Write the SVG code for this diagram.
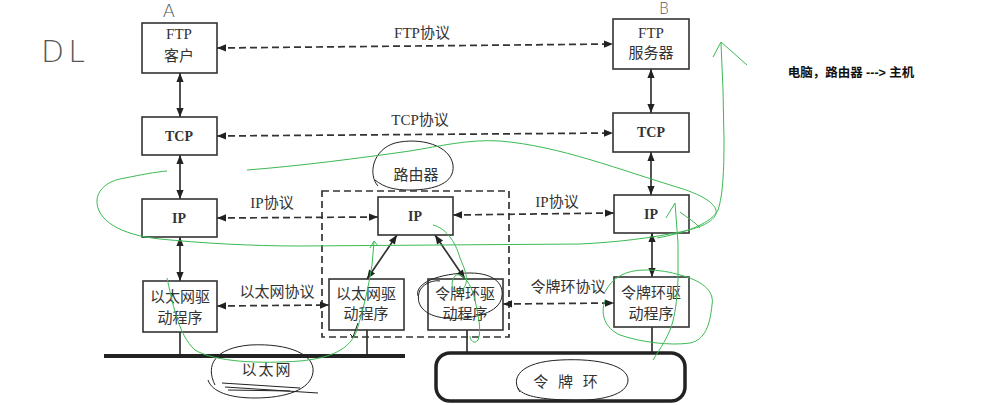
<svg xmlns="http://www.w3.org/2000/svg" width="1002" height="405" viewBox="0 0 1002 405">
<style>
.box{fill:#fff;stroke:#333;stroke-width:1.6}
.lbl{font-family:"Liberation Serif","Noto Sans CJK SC",serif;font-size:15px;fill:#333;text-anchor:middle}
.b{font-weight:bold;font-size:14px}
.con{stroke:#333;stroke-width:1.7;fill:none}
.dash{stroke-dasharray:7 4}
.hand{fill:none;stroke:#222;stroke-width:1}
.green{fill:none;stroke:#3cba54;stroke-width:1}
.hw{font-family:"DejaVu Sans",sans-serif;fill:#555;text-anchor:middle;font-weight:200}
</style>
<defs>
<marker id="ah" viewBox="0 0 10 10" refX="10" refY="5" markerWidth="10" markerHeight="9" markerUnits="userSpaceOnUse" orient="auto-start-reverse">
<path d="M0,1 L10,5 L0,9 z" fill="#222" stroke="none"/>
</marker>
</defs>
<rect width="1002" height="405" fill="#fff"/>

<g id="router-frame">
<rect x="322" y="191" width="187" height="146" fill="none" stroke="#333" stroke-width="1.7" stroke-dasharray="7 4"/>
</g>

<g id="connectors">
<path class="con dash" d="M217,48 L613,44" marker-start="url(#ah)" marker-end="url(#ah)"/>
<path class="con dash" d="M217,136 L613,133" marker-start="url(#ah)" marker-end="url(#ah)"/>
<path class="con dash" d="M217,218 L378,217" marker-start="url(#ah)" marker-end="url(#ah)"/>
<path class="con dash" d="M453,215 L614,213" marker-start="url(#ah)" marker-end="url(#ah)"/>
<path class="con dash" d="M217,306 L329,305" marker-start="url(#ah)" marker-end="url(#ah)"/>
<path class="con dash" d="M503,304 L614,303" marker-start="url(#ah)" marker-end="url(#ah)"/>
<path class="con" d="M180,73 L180,117" marker-start="url(#ah)" marker-end="url(#ah)"/>
<path class="con" d="M180,155 L180,199" marker-start="url(#ah)" marker-end="url(#ah)"/>
<path class="con" d="M180,237 L180,281" marker-start="url(#ah)" marker-end="url(#ah)"/>
<path class="con" d="M651,69 L651,113" marker-start="url(#ah)" marker-end="url(#ah)"/>
<path class="con" d="M651,152 L651,195" marker-start="url(#ah)" marker-end="url(#ah)"/>
<path class="con" d="M652,233 L652,277" marker-start="url(#ah)" marker-end="url(#ah)"/>
<path class="con" d="M397,235 L367,279" marker-start="url(#ah)" marker-end="url(#ah)"/>
<path class="con" d="M435,235 L465,279" marker-start="url(#ah)" marker-end="url(#ah)"/>
<path class="con" d="M180,332 L180,357 M367,330 L367,357 M467,330 L467,354 M652,327 L652,353"/>
<text class="lbl" x="422" y="38">FTP协议</text>
<text class="lbl" x="420" y="125">TCP协议</text>
<text class="lbl" x="272" y="208">IP协议</text>
<text class="lbl" x="557" y="207">IP协议</text>
<text class="lbl" x="277" y="297">以太网协议</text>
<text class="lbl" x="568" y="292">令牌环协议</text>
</g>

<g id="ethernet">
<path d="M104,356 L405,356" stroke="#222" stroke-width="4"/>
<text class="lbl" x="267" y="375" letter-spacing="2">以太网</text>
</g>
<g id="token-ring">
<rect x="436" y="353" width="249" height="48" rx="14" fill="none" stroke="#222" stroke-width="3.5"/>
<text class="lbl" x="567" y="387" font-size="16" letter-spacing="3">令 牌 环</text>
</g>

<g id="ftp-client"><rect class="box" x="142" y="23" width="75" height="50"/><text class="lbl" x="179" y="39">FTP</text><text class="lbl" x="179" y="61">客户</text></g>
<g id="tcp-a"><rect class="box" x="142" y="117" width="75" height="38"/><text class="lbl b" x="179" y="141">TCP</text></g>
<g id="ip-a"><rect class="box" x="142" y="199" width="75" height="38"/><text class="lbl b" x="179" y="223">IP</text></g>
<g id="eth-driver-a"><rect class="box" x="143" y="281" width="74" height="51"/><text class="lbl" x="180" y="302">以太网驱</text><text class="lbl" x="180" y="323">动程序</text></g>

<g id="router-label"><text class="lbl" x="416" y="180">路由器</text></g>
<g id="ip-router"><rect class="box" x="378" y="197" width="75" height="38"/><text class="lbl b" x="415" y="221">IP</text></g>
<g id="eth-driver-router"><rect class="box" x="329" y="279" width="75" height="51"/><text class="lbl" x="366" y="299">以太网驱</text><text class="lbl" x="366" y="319">动程序</text></g>
<g id="tr-driver-router"><rect class="box" x="428" y="279" width="75" height="51"/><text class="lbl" x="465" y="299">令牌环驱</text><text class="lbl" x="465" y="319">动程序</text></g>

<g id="ftp-server"><rect class="box" x="613" y="19" width="76" height="50"/><text class="lbl" x="651" y="38">FTP</text><text class="lbl" x="651" y="58">服务器</text></g>
<g id="tcp-b"><rect class="box" x="613" y="113" width="76" height="39"/><text class="lbl b" x="651" y="137">TCP</text></g>
<g id="ip-b"><rect class="box" x="614" y="195" width="75" height="38"/><text class="lbl b" x="651" y="219">IP</text></g>
<g id="tr-driver-b"><rect class="box" x="614" y="277" width="75" height="50"/><text class="lbl" x="651" y="298">令牌环驱</text><text class="lbl" x="651" y="319">动程序</text></g>

<g id="note"><text x="851" y="77" font-family="'Liberation Sans','Noto Sans CJK SC',sans-serif" font-size="12.5" font-weight="bold" fill="#111" text-anchor="middle">电脑，路由器 ---&gt; 主机</text></g>

<g id="handwriting">
<text class="hw" x="169" y="17" font-size="18">A</text>
<text class="hw" x="664" y="14" font-size="15">B</text>
<text class="hw" x="65" y="62" font-size="30" fill="#666" letter-spacing="4">DL</text>
<path class="hand" d="M378,186 C368,175 372,150 395,143 C420,137 450,145 453,165 C455,183 435,190 410,190 C395,190 385,188 375,180"/>
<path class="hand" d="M215,385 C205,365 215,348 250,345 C290,343 315,355 313,372 C311,390 285,398 255,398 C230,398 212,392 208,380"/>
<path class="hand" d="M222,383 L300,388 M225,387 L318,393 M228,390 L290,391"/>
<path class="hand" d="M520,392 C510,378 520,362 560,360 C600,358 628,366 628,380 C628,395 600,402 565,400 C540,399 522,396 518,388"/>
<path class="hand" d="M418,296 C414,283 440,273 470,273 C495,273 506,285 501,300 C496,314 470,320 445,318 C425,316 414,305 420,290 C425,282 435,280 440,281"/>
<path class="hand" d="M358,323 L353,337 M350,334 L354,338"/>
<path class="green" d="M247,170 C300,166 360,158 410,151 C440,146 470,139 500,141 C560,146 620,170 680,188 C705,196 718,205 716,214 C713,222 700,228 680,232 C650,238 620,242 580,244 L300,246 C250,246 200,243 160,239 C120,235 96,220 97,200 C98,188 110,180 125,178 C140,175 155,172 167,171"/>
<path class="green" d="M657,238 C690,232 712,222 718,210 C723,195 724,170 724,140 L723,90 L721,43 M713,57 L721,42 L747,65"/>
<path class="green" d="M167,278 C172,300 178,335 195,350 C215,362 260,364 300,361 C330,358 350,350 357,330 C363,310 368,290 372,265 L374,242 M370,248 L374,241 L378,246"/>
<path class="green" d="M433,225 C445,228 455,240 460,258 C466,272 470,282 462,290 C455,296 448,285 455,276 C462,270 472,285 475,300 C478,315 482,330 478,340 C474,345 470,340 470,336"/>
<path class="green" d="M605,292 C612,278 625,270 645,270 C660,270 670,272 680,275 C700,280 715,290 712,305 C710,325 705,340 690,343 C670,346 640,342 620,335 C605,328 600,315 605,300"/>
<path class="green" d="M666,218 L675,203 L678,243 L678,280 C677,300 675,318 670,330 C665,342 658,352 653,360 M680,212 C688,218 695,222 700,228"/>
</g>
</svg>
